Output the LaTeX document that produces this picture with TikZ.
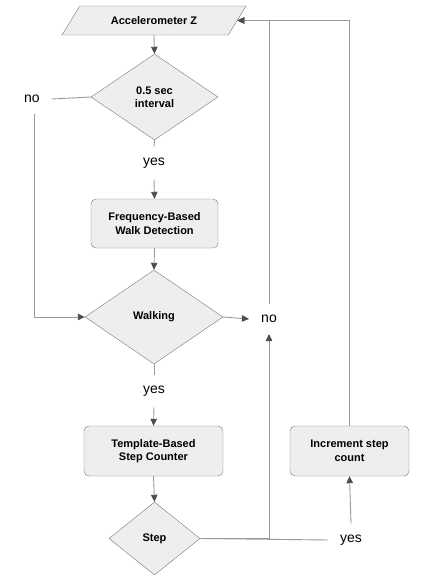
\documentclass[tikz,border=0pt]{standalone}
\usepackage{fontspec}
\setmainfont{Liberation Sans}
\usetikzlibrary{shapes.geometric,arrows.meta}

\definecolor{boxfill}{HTML}{EEEEEE}
\definecolor{boxline}{HTML}{7A7A7A}
\definecolor{wire}{HTML}{9A9A9A}
\definecolor{tipgray}{HTML}{4D4D4D}

\begin{document}
\begin{tikzpicture}[x=1pt,y=-1pt,
    proc/.style={draw=boxline, fill=boxfill, rounded corners=5pt, align=center,
        font=\bfseries\fontsize{11}{13.5}\selectfont, inner sep=0pt},
    decision/.style={diamond, draw=boxline, fill=boxfill, align=center,
        font=\bfseries\fontsize{11}{13.5}\selectfont, inner sep=0pt},
    inout/.style={trapezium, trapezium left angle=38, trapezium right angle=142,
        trapezium stretches=true, draw=boxline, fill=boxfill,
        font=\bfseries\fontsize{11}{13.5}\selectfont, inner sep=0pt},
    answer/.style={font=\fontsize{14}{16}\selectfont, inner xsep=12pt, inner ysep=11pt},
    wireline/.style={draw=wire, line width=0.9pt},
    flow/.style={wireline, -{Triangle[length=7pt,width=6.5pt,color=tipgray]}}
]
    \useasboundingbox (0,0) rectangle (421,576);

    %% main column
    \node[inout, minimum width=184pt, minimum height=29pt] (acc) at (154,20.5) {Accelerometer Z};
    \node[decision, minimum width=127pt, minimum height=86pt] (interval) at (154.5,97) {0.5 sec\\interval};
    \node[answer] (yesint) at (154,163) {yes};
    \node[proc, minimum width=127pt, minimum height=49pt] (freq) at (154.5,223.5) {Frequency-Based\\Walk Detection};
    \node[decision, minimum width=138pt, minimum height=94pt] (walk) at (154,317) {Walking};
    \node[answer] (yeswalk) at (154,391) {yes};
    \node[proc, minimum width=139pt, minimum height=50pt] (tmpl) at (153.5,451) {Template-Based\\Step Counter};
    \node[decision, minimum width=91pt, minimum height=73pt] (step) at (154.5,538.5) {Step};

    %% side labels
    \node[answer] (nointerval) at (32,99) {no};
    \node[answer] (nowalk) at (269,319) {no};
    \node[answer] (yesstep) at (351,540) {yes};

    %Increment
    \node[proc, minimum width=119pt, minimum height=50pt] (inc) at (349.5,451) {Increment step\\count};

    %% arrows down
    \draw[flow] (acc.south) -- (interval.north);
    \draw[wireline] (interval.south) -- (yesint.north);
    \draw[flow] (yesint.south) -- (freq.north);
    \draw[flow] (freq.south) -- (walk.north);
    \draw[wireline] (walk.south) -- (yeswalk.north);
    \draw[flow] (yeswalk.south) -- (tmpl.north);
    \draw[flow] (tmpl.south) -- (step.north);

    %% no branch left
    \draw[wireline] (interval.west) -- (nointerval.east);
    \draw[flow] (nointerval.south -| 34,0) |- (walk.west);

    %% loops back
    \draw[flow] (walk.east) -- (nowalk.west);
    \draw[flow] (nowalk.north) |- (acc.east);
    \draw[wireline] (step.east) -- (yesstep.west);
    \draw[flow] (step.east) -| (nowalk.south);
    \draw[flow] (yesstep.north) -- (inc.south);
    \draw[flow] (inc.north) |- (acc.east);

\end{tikzpicture}
\end{document}
